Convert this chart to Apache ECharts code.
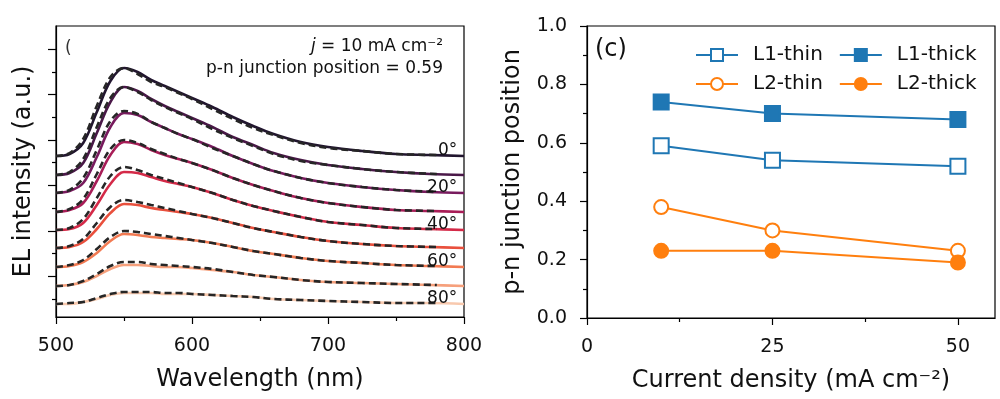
<!DOCTYPE html>
<html>
<head>
<meta charset="utf-8">
<script src="https://cdn.jsdelivr.net/npm/echarts@6/dist/echarts.min.js"></script>
<style>
html, body { margin: 0; padding: 0; background: #fff; }
#chart { width: 1000px; height: 399px; }
</style>
</head>
<body>
<div id="chart"></div>
<script>
// left panel: EL spectra, stacked by emission angle
const wavelengths = [500, 510, 520, 530, 540, 550, 560, 570, 580, 590, 600, 615, 630, 645, 660, 680, 700, 725, 750, 775, 800]
const fitWavelengths = [500, 510, 520, 530, 540, 550, 560, 570, 580, 590, 600, 615, 630, 645, 660, 680, 700, 725, 750, 780]
const angles = ['0°', '10°', '20°', '30°', '40°', '50°', '60°', '70°', '80°']
const labeledAngles = ['0°', '20°', '40°', '60°', '80°']
const offsets = [161, 142, 124, 105, 87, 69, 50, 31, 13]

const el0 = [0, 2, 13, 44, 75, 88, 84, 76, 70, 64, 58, 49, 39, 30, 22, 14, 9, 5, 2, 1, 0]
const el10 = [0, 2, 12, 42, 73, 88, 84, 76, 69, 63, 57, 48, 38, 30, 22, 15, 10, 6, 3, 1, 0]
const el20 = [0, 2, 10, 36, 66, 80, 78, 71, 65, 59, 54, 46, 37, 29, 22, 15, 10, 6, 3, 1, 0]
const el30 = [0, 2, 9, 31, 57, 70, 68, 62, 57, 53, 49, 42, 34, 27, 21, 14, 9, 5, 2, 1, 0]
const el40 = [0, 1, 7, 25, 46, 58, 57, 53, 49, 46, 43, 37, 30, 24, 19, 13, 8, 5, 2, 1, 0]
const el50 = [0, 1, 6, 19, 35, 44, 43, 40, 38, 36, 34, 30, 25, 20, 16, 11, 7, 4, 2, 1, 0]
const el60 = [0, 1, 5, 14, 26, 33, 32, 30, 29, 28, 27, 24, 20, 16, 13, 9, 6, 4, 2, 1, 0]
const el70 = [0, 1, 4, 10, 17, 21, 21, 20, 19, 19, 18, 16, 14, 11, 9, 6, 4, 3, 2, 1, 0]
const el80 = [0, 0, 2, 5, 9, 11, 11, 11, 10, 10, 10, 9, 8, 7, 5, 4, 3, 2, 1, 1, 0]

const fit0 = [0, 3, 17, 50, 79, 88, 82, 74, 69, 63, 57, 47, 37, 28, 21, 13, 8, 5, 2, 1]
const fit10 = [0, 3, 16, 48, 77, 88, 83, 75, 68, 62, 56, 46, 37, 29, 21, 14, 10, 6, 3, 1]
const fit20 = [0, 3, 15, 43, 72, 82, 79, 71, 65, 59, 54, 45, 37, 29, 22, 15, 10, 6, 3, 1]
const fit30 = [0, 3, 13, 38, 63, 72, 69, 63, 58, 53, 49, 42, 34, 27, 21, 14, 9, 5, 2, 1]
const fit40 = [0, 2, 11, 32, 54, 63, 60, 55, 51, 47, 43, 37, 30, 24, 19, 13, 8, 5, 2, 1]
const fit50 = [0, 2, 9, 25, 41, 48, 46, 43, 40, 37, 34, 30, 25, 20, 16, 11, 7, 4, 2, 1]
const fit60 = [0, 2, 7, 18, 30, 36, 35, 33, 31, 29, 27, 24, 20, 16, 13, 9, 6, 4, 2, 1]
const fit70 = [0, 1, 5, 12, 20, 24, 24, 22, 21, 20, 19, 17, 14, 11, 9, 6, 4, 3, 2, 1]
const fit80 = [0, 1, 2, 6, 10, 12, 12, 12, 11, 11, 10, 9, 8, 7, 5, 4, 3, 2, 1, 1]

const angleColors = ['#22162f', '#4a1848', '#781b5e', '#a81d57', '#d42a48', '#e9503d', '#f27a52', '#f6a07c', '#f8c9ae']
const elTickMajor = [41, 86, 132, 177, 223, 268]
const elTickMinor = [18, 64, 109, 155, 200, 245]

// right panel: junction position vs current density
const currents = [10, 25, 50]
const l1Thin = [0.59, 0.54, 0.52]
const l1Thick = [0.74, 0.70, 0.68]
const l2Thin = [0.38, 0.30, 0.23]
const l2Thick = [0.23, 0.23, 0.19]
const currentTicks = [0, 25, 50]
const currentMinorTicks = [12.5, 37.5]

const FONT = 'DejaVu Sans'
const BLUE = '#1f77b4'
const ORANGE = '#ff7f0e'

const measured = [el0, el10, el20, el30, el40, el50, el60, el70, el80]
const fits = [fit0, fit10, fit20, fit30, fit40, fit50, fit60, fit70, fit80]

let series = []
measured.forEach((spec, i) => {
  let s = {
    type: 'line',
    xAxisIndex: 0,
    yAxisIndex: 0,
    data: spec.map((v, k) => [wavelengths[k], offsets[i] + v]),
    smooth: 0.35,
    symbol: 'none',
    lineStyle: { color: angleColors[i], width: 2.6 },
    z: 2,
  }
  if (labeledAngles.indexOf(angles[i]) >= 0) {
    s.markPoint = {
      symbol: 'circle',
      symbolSize: 0,
      silent: true,
      data: [{ coord: [795, offsets[i] - 3] }],
      label: {
        show: true,
        formatter: angles[i],
        position: [0, 0],
        align: 'right',
        verticalAlign: 'bottom',
        fontSize: 17,
        fontFamily: FONT,
        color: '#111',
      },
    }
  }
  series.push(s)
})
fits.forEach((spec, i) => {
  series.push({
    type: 'line',
    xAxisIndex: 0,
    yAxisIndex: 0,
    data: spec.map((v, k) => [fitWavelengths[k], offsets[i] + v]),
    smooth: 0.35,
    symbol: 'none',
    lineStyle: { color: '#262626', width: 2.6, type: [7, 4] },
    z: 3,
  })
})

function posSeries(name, values, color, shape, filled) {
  return {
    name,
    type: 'line',
    xAxisIndex: 1,
    yAxisIndex: 2,
    data: values.map((v, k) => [currents[k], v]),
    symbol: shape,
    symbolSize: shape == 'rect' ? 15 : 14,
    showAllSymbol: true,
    lineStyle: { color, width: 2 },
    itemStyle: { color: filled ? color : '#fff', borderColor: color, borderWidth: 2 },
    z: 5,
  }
}
series.push(posSeries('L1-thin', l1Thin, BLUE, 'rect', false))
series.push(posSeries('L1-thick', l1Thick, BLUE, 'rect', true))
series.push(posSeries('L2-thin', l2Thin, ORANGE, 'circle', false))
series.push(posSeries('L2-thick', l2Thick, ORANGE, 'circle', true))

const axisLine = { show: true, lineStyle: { color: '#000', width: 1.2 } }
const tickStyle = { color: '#000', width: 1.2 }
const nameStyle = { fontSize: 24, fontFamily: FONT, color: '#111' }
const labelStyle = { fontSize: 19, fontFamily: FONT, color: '#111' }
const legendBase = {
  left: 695,
  padding: 0,
  itemWidth: 42,
  itemHeight: 15,
  itemGap: 16,
  textStyle: { fontSize: 20, fontFamily: FONT, color: '#111', padding: [0, 0, 0, 10] },
}

let chart = echarts.init(document.getElementById('chart'))
chart.setOption({
  animation: false,
  backgroundColor: '#fff',
  grid: [
    { left: 56, top: 26, width: 408, height: 291, show: true, borderColor: '#000', borderWidth: 1.2 },
    { left: 587, top: 26, width: 408, height: 292, show: true, borderColor: '#000', borderWidth: 1.2 },
  ],
  xAxis: [
    {
      gridIndex: 0,
      type: 'value',
      min: 500,
      max: 800,
      interval: 100,
      axisLine,
      axisTick: { length: 7, lineStyle: tickStyle },
      minorTick: { show: true, splitNumber: 2, length: 4, lineStyle: tickStyle },
      axisLabel: Object.assign({ margin: 20 }, labelStyle),
      splitLine: { show: false },
      name: 'Wavelength (nm)',
      nameLocation: 'middle',
      nameGap: 51,
      nameTextStyle: nameStyle,
    },
    {
      gridIndex: 1,
      type: 'value',
      position: 'bottom',
      min: 0,
      max: 55,
      axisLine,
      axisTick: { length: 7, lineStyle: tickStyle, customValues: currentTicks },
      axisLabel: Object.assign({ margin: 20, customValues: currentTicks }, labelStyle),
      splitLine: { show: false },
      name: 'Current density (mA cm⁻²)',
      nameLocation: 'middle',
      nameGap: 51,
      nameTextStyle: nameStyle,
    },
    {
      gridIndex: 1,
      type: 'value',
      position: 'bottom',
      min: 0,
      max: 55,
      axisLine: { show: false },
      axisTick: { length: 4, lineStyle: tickStyle, customValues: currentMinorTicks },
      axisLabel: { show: false },
      splitLine: { show: false },
    },
  ],
  yAxis: [
    {
      gridIndex: 0,
      type: 'value',
      position: 'left',
      min: 0,
      max: 291,
      axisLine,
      axisTick: { length: 8, lineStyle: tickStyle, customValues: elTickMajor },
      axisLabel: { show: false },
      splitLine: { show: false },
      name: 'EL intensity (a.u.)',
      nameLocation: 'middle',
      nameGap: 20,
      nameTextStyle: nameStyle,
    },
    {
      gridIndex: 0,
      type: 'value',
      position: 'left',
      min: 0,
      max: 291,
      axisLine: { show: false },
      axisTick: { length: 4, lineStyle: tickStyle, customValues: elTickMinor },
      axisLabel: { show: false },
      splitLine: { show: false },
    },
    {
      gridIndex: 1,
      type: 'value',
      position: 'left',
      min: 0,
      max: 1,
      interval: 0.2,
      axisLine,
      axisTick: { length: 7, lineStyle: tickStyle },
      minorTick: { show: true, splitNumber: 2, length: 4, lineStyle: tickStyle },
      axisLabel: Object.assign({ margin: 20, formatter: v => v.toFixed(1) }, labelStyle),
      splitLine: { show: false },
      name: 'p-n junction position',
      nameLocation: 'middle',
      nameGap: 62,
      nameTextStyle: nameStyle,
    },
  ],
  legend: [
    Object.assign({ top: 45, data: ['L1-thin', 'L1-thick'] }, legendBase),
    Object.assign({ top: 74, data: ['L2-thin', 'L2-thick'] }, legendBase),
  ],
  graphic: [
    {
      type: 'text',
      right: 557,
      top: 38,
      style: {
        text: '{i|j} = 10 mA cm⁻²',
        fontSize: 17,
        fontFamily: FONT,
        fill: '#111',
        rich: { i: { fontStyle: 'italic', fontSize: 17, fontFamily: FONT } },
      },
    },
    {
      type: 'text',
      right: 557,
      top: 60,
      style: { text: 'p-n junction position = 0.59', fontSize: 17, fontFamily: FONT, fill: '#111' },
    },
    {
      type: 'text',
      left: 65,
      top: 40,
      style: { text: '(', fontSize: 17, fontFamily: FONT, fill: '#333' },
    },
    {
      type: 'text',
      left: 595,
      top: 38,
      style: { text: '(c)', fontSize: 24, fontFamily: FONT, fill: '#111' },
    },
  ],
  series,
})
</script>
</body>
</html>
